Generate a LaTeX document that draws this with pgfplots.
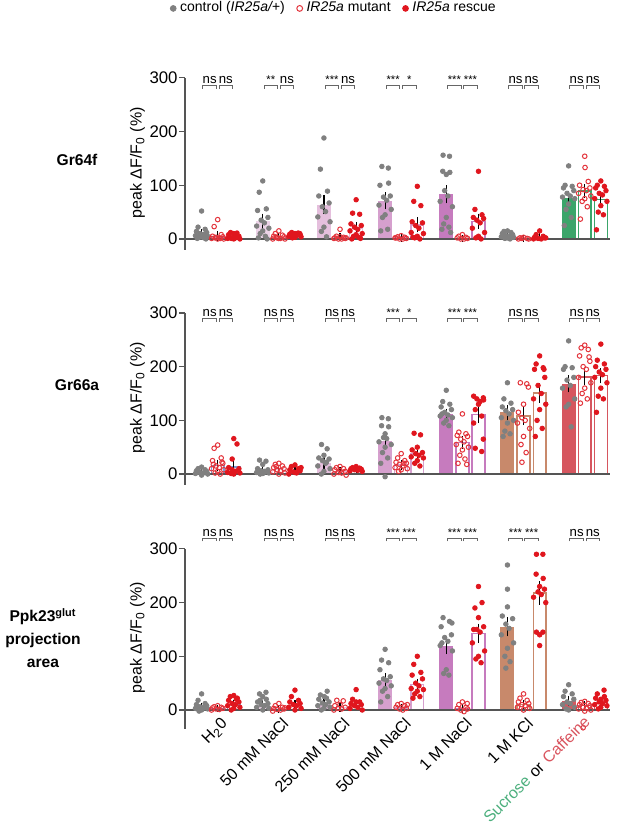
\documentclass[border=0pt]{standalone}
\usepackage{fontspec}
\setmainfont{Liberation Sans}
\usepackage{pgfplots}
\pgfplotsset{compat=1.18}
\usepackage{pgfplotstable}

\definecolor{ctrl}{HTML}{808080}
\definecolor{mut}{HTML}{E3343C}
\definecolor{res}{HTML}{E0161E}
\definecolor{cH}{HTML}{7D9BD2}
\definecolor{cA}{HTML}{EDD3E8}
\definecolor{cB}{HTML}{E5BFDD}
\definecolor{cC}{HTML}{D6A0CE}
\definecolor{cD}{HTML}{C67BBE}
\definecolor{cK}{HTML}{C8896B}
\definecolor{cS}{HTML}{3BA56A}
\definecolor{cF}{HTML}{D6565F}
\definecolor{cP}{RGB}{212,88,96}
\definecolor{labS}{HTML}{4CAF7D}
\definecolor{labF}{HTML}{D9545E}
\definecolor{axisgray}{HTML}{555555}

\tikzset{brk/.style={color=black!60, line width=0.45pt},
  sigt/.style={font=\fontsize{6.6}{7}\selectfont, anchor=base, inner sep=0pt},
  xlab/.style={font=\fontsize{8}{9}\selectfont, rotate=45, anchor=north east, inner sep=0pt}}
\newcommand\st{\fontsize{5.6}{6}\selectfont}

% ---------------- dot data: g dx y ----------------
\pgfplotstableread[row sep=\\]{g dx y\\
0 0 52\\0 -0.22 22\\0 0.22 18\\0 -0.32 14\\0 0.32 12\\0 -0.1 10\\0 0.1 8\\0 -0.38 6\\0 0.38 5\\0 0 4\\0 -0.16 3\\0 0.16 2\\0 -0.27 1\\0 0.27 0\\
1 0 108\\1 -0.22 87\\1 0.22 56\\1 -0.32 53\\1 0.32 40\\1 -0.1 35\\1 0.1 30\\1 -0.38 24\\1 0.38 20\\1 0 15\\1 -0.16 10\\1 0.16 5\\1 -0.27 2\\1 0.27 0\\
2 0 188\\2 -0.22 130\\2 0.22 89\\2 -0.32 80\\2 0.32 67\\2 -0.1 60\\2 0.1 51\\2 -0.38 41\\2 0.38 32\\2 0 22\\2 -0.16 14\\2 0.16 4\\
3 -0.2 135\\3 0.2 132\\3 0.22 104\\3 -0.32 100\\3 0.32 80\\3 -0.1 78\\3 0.1 72\\3 -0.38 63\\3 0.38 55\\3 0 45\\3 -0.16 40\\3 0.16 18\\3 -0.27 15\\
4 -0.2 156\\4 0.2 154\\4 -0.22 126\\4 0.22 124\\4 0 120\\4 -0.1 90\\4 0.1 80\\4 -0.38 70\\4 0.38 60\\4 0 40\\4 -0.16 28\\4 0.16 22\\4 -0.27 18\\4 0.27 12\\
5 0 15\\5 -0.22 14\\5 0.22 12\\5 -0.32 10\\5 0.32 8\\5 -0.1 6\\5 0.1 5\\5 -0.38 4\\5 0.38 3\\5 0 2\\5 -0.16 1\\5 0.16 0\\
6 0 136\\6 -0.22 100\\6 0.22 98\\6 -0.32 95\\6 0.32 90\\6 -0.1 85\\6 0.1 80\\6 -0.38 78\\6 0.38 75\\6 0 65\\6 -0.16 55\\6 0.16 40\\6 -0.27 25\\
}\pOneC
\pgfplotstableread[row sep=\\]{g dx y\\
0 0 36\\0 -0.22 23\\0 0.22 8\\0 -0.32 5\\0 0.32 4\\0 -0.1 3\\0 0.1 2\\0 -0.38 1\\0 0.38 0\\0 0 0\\0 -0.16 2\\0 0.16 1\\
1 0 15\\1 -0.22 10\\1 0.22 7\\1 -0.32 5\\1 0.32 4\\1 -0.1 2\\1 0.1 1\\1 -0.38 0\\1 0.38 0\\1 0 1\\1 -0.16 3\\
2 0 18\\2 -0.22 5\\2 0.22 3\\2 -0.32 2\\2 0.32 1\\2 -0.1 0\\2 0.1 0\\2 -0.38 1\\2 0.38 2\\2 0 4\\
3 0 6\\3 -0.22 4\\3 0.22 3\\3 -0.32 2\\3 0.32 1\\3 -0.1 0\\3 0.1 0\\3 -0.38 2\\
4 0 8\\4 -0.22 5\\4 0.22 3\\4 -0.32 2\\4 0.32 1\\4 -0.1 0\\4 0.1 0\\
5 0 3\\5 -0.22 2\\5 0.22 1\\5 -0.32 0\\5 0.32 0\\5 -0.1 1\\
6 0 154\\6 0.02 133\\6 0.22 107\\6 -0.32 100\\6 0.32 95\\6 -0.1 92\\6 0.1 90\\6 -0.38 85\\6 0.38 80\\6 0 75\\6 -0.16 70\\6 0.16 60\\6 -0.27 37\\
}\pOneM
\pgfplotstableread[row sep=\\]{g dx y\\
0 -0.2 12\\0 0.2 11\\0 0 10\\0 -0.32 8\\0 0.32 5\\0 -0.1 3\\0 0.1 2\\0 -0.38 1\\0 0.38 0\\0 0 0\\0 -0.16 1\\0 0.16 4\\
1 -0.2 12\\1 0.2 11\\1 0 10\\1 -0.32 9\\1 0.32 8\\1 -0.1 7\\1 0.1 6\\1 -0.38 5\\1 0.38 4\\1 0 3\\1 -0.16 2\\1 0.3 10\\
2 0 73\\2 -0.22 48\\2 0.22 46\\2 -0.32 28\\2 0.32 25\\2 -0.1 22\\2 0.1 18\\2 -0.38 15\\2 0.38 10\\2 0 8\\2 -0.16 5\\2 0.16 3\\2 -0.27 0\\2 0.27 1\\
3 0 98\\3 -0.22 70\\3 0.22 62\\3 -0.32 32\\3 0.32 30\\3 -0.1 25\\3 0.1 20\\3 -0.38 12\\3 0.38 10\\3 0 5\\3 -0.16 2\\3 0.16 0\\3 -0.27 3\\
4 0 126\\4 -0.22 55\\4 0.22 45\\4 -0.32 40\\4 0.32 38\\4 -0.1 35\\4 0.1 30\\4 -0.38 20\\4 0.38 12\\4 0 5\\4 -0.16 2\\4 0.16 0\\
5 0 15\\5 -0.22 8\\5 0.22 5\\5 -0.32 3\\5 0.32 2\\5 -0.1 1\\5 0.1 0\\5 -0.38 0\\5 0.38 2\\
6 0 108\\6 -0.22 100\\6 0.22 98\\6 -0.32 95\\6 0.32 90\\6 -0.1 85\\6 0.1 82\\6 -0.38 75\\6 0.38 70\\6 0 62\\6 -0.16 50\\6 0.16 45\\6 -0.27 17\\
}\pOneR

\pgfplotstableread[row sep=\\]{g dx y\\
0 0 13\\0 -0.22 10\\0 0.22 8\\0 -0.32 6\\0 0.32 5\\0 -0.1 3\\0 0.1 2\\0 -0.38 1\\0 0.38 0\\0 0 -2\\0 -0.16 4\\
1 -0.2 26\\1 0.2 24\\1 0 18\\1 -0.32 10\\1 0.32 8\\1 -0.1 6\\1 0.1 5\\1 -0.38 3\\1 0.38 2\\1 0 1\\1 -0.16 0\\1 0.16 4\\
2 -0.15 55\\2 0.2 47\\2 0 35\\2 -0.32 30\\2 0.32 28\\2 -0.1 25\\2 0.1 20\\2 -0.38 15\\2 0.38 10\\2 0 5\\2 -0.16 0\\2 0.16 22\\
3 -0.2 105\\3 0.2 103\\3 -0.22 90\\3 0.22 88\\3 0 75\\3 -0.1 68\\3 0.1 66\\3 -0.38 60\\3 0.38 55\\3 0 50\\3 -0.16 40\\3 0.16 30\\3 -0.27 20\\3 0 -5\\
4 0 156\\4 -0.22 135\\4 0.22 130\\4 -0.32 125\\4 0.32 120\\4 -0.1 115\\4 0.1 110\\4 -0.38 108\\4 0.38 105\\4 0 100\\4 -0.16 95\\4 0.16 90\\4 -0.27 112\\
5 0 170\\5 -0.22 140\\5 0.22 132\\5 -0.32 125\\5 0.32 120\\5 -0.1 118\\5 0.1 112\\5 -0.38 105\\5 0.38 100\\5 0 95\\5 -0.16 80\\5 0.16 75\\5 -0.27 70\\
6 0 248\\6 -0.22 200\\6 0.22 198\\6 -0.32 195\\6 0.32 180\\6 -0.1 175\\6 0.1 165\\6 -0.38 160\\6 0.38 140\\6 0 130\\6 -0.16 125\\6 0.16 88\\
}\pTwoC
\pgfplotstableread[row sep=\\]{g dx y\\
0 0 54\\0 -0.22 48\\0 0.22 30\\0 -0.32 25\\0 0.32 20\\0 -0.1 15\\0 0.1 12\\0 -0.38 10\\0 0.38 8\\0 0 5\\0 -0.16 2\\0 0.16 0\\0 -0.27 18\\0 0.27 22\\
1 0 20\\1 -0.22 18\\1 0.22 15\\1 -0.32 12\\1 0.32 10\\1 -0.1 8\\1 0.1 6\\1 -0.38 4\\1 0.38 2\\1 0 0\\1 -0.16 14\\
2 0 14\\2 -0.22 12\\2 0.22 10\\2 -0.32 8\\2 0.32 5\\2 -0.1 3\\2 0.1 2\\2 -0.38 0\\2 0.38 -2\\2 0 6\\
3 0 38\\3 -0.22 30\\3 0.22 25\\3 -0.32 22\\3 0.32 20\\3 -0.1 18\\3 0.1 15\\3 -0.38 12\\3 0.38 10\\3 0 8\\3 -0.16 5\\3 0.16 20\\
4 0 112\\4 -0.22 78\\4 0.22 75\\4 -0.32 72\\4 0.32 70\\4 -0.1 65\\4 0.1 60\\4 -0.38 55\\4 0.38 50\\4 0 45\\4 -0.16 35\\4 0.16 28\\4 -0.27 20\\4 0.27 18\\
5 -0.2 170\\5 0.2 168\\5 0.3 162\\5 0 130\\5 -0.32 115\\5 -0.1 105\\5 0.1 100\\5 -0.38 95\\5 0.38 85\\5 0 70\\5 -0.16 55\\5 0.16 40\\5 -0.1 22\\
6 0 240\\6 -0.22 235\\6 0.22 232\\6 -0.32 220\\6 0.32 210\\6 -0.1 200\\6 0.1 195\\6 -0.38 180\\6 0.38 170\\6 0 160\\6 -0.16 150\\6 0.16 140\\6 -0.27 132\\6 0.27 218\\
}\pTwoM
\pgfplotstableread[row sep=\\]{g dx y\\
0 0 66\\0 0.2 56\\0 -0.1 28\\0 -0.32 12\\0 0.32 10\\0 -0.1 8\\0 0.1 5\\0 -0.38 3\\0 0.38 2\\0 0 0\\0 -0.16 1\\
1 0 17\\1 -0.22 14\\1 0.22 10\\1 -0.32 8\\1 0.32 6\\1 -0.1 4\\1 0.1 2\\1 -0.38 0\\1 0.38 12\\1 0 3\\
2 0 14\\2 -0.22 12\\2 0.22 11\\2 -0.32 10\\2 0.32 9\\2 -0.1 8\\2 0.1 7\\2 -0.38 6\\2 0.38 5\\2 0.05 10\\
3 -0.2 76\\3 0.2 73\\3 0 50\\3 -0.32 45\\3 0.32 40\\3 -0.1 38\\3 0.1 35\\3 -0.38 32\\3 0.38 30\\3 0 25\\3 -0.16 20\\3 0.16 15\\
4 -0.3 145\\4 0.3 142\\4 -0.1 140\\4 0.1 135\\4 0 130\\4 -0.2 120\\4 0.2 108\\4 -0.3 95\\4 0.3 65\\4 -0.2 48\\4 0.2 42\\4 0.32 138\\
5 0 220\\5 -0.22 205\\5 0.22 198\\5 -0.32 195\\5 0.32 180\\5 -0.1 165\\5 0.1 150\\5 -0.38 140\\5 0.38 130\\5 0 120\\5 -0.16 100\\5 0.16 85\\5 -0.27 70\\5 0.27 195\\
6 0 242\\6 -0.22 212\\6 0.22 205\\6 -0.32 200\\6 0.32 195\\6 -0.1 190\\6 0.1 185\\6 -0.38 180\\6 0.38 170\\6 0 160\\6 -0.16 145\\6 0.16 140\\6 -0.27 115\\
}\pTwoR

\pgfplotstableread[row sep=\\]{g dx y\\
0 0 30\\0 -0.22 18\\0 0.22 12\\0 -0.32 10\\0 0.32 8\\0 -0.1 6\\0 0.1 5\\0 -0.38 3\\0 0.38 2\\0 0 0\\0 -0.16 -2\\0 0.16 4\\
1 0.2 33\\1 -0.2 30\\1 0.22 20\\1 -0.32 15\\1 0.32 12\\1 -0.1 10\\1 0.1 8\\1 -0.38 5\\1 0.38 3\\1 0 0\\1 -0.16 18\\1 0 25\\
2 0.2 35\\2 -0.22 28\\2 0.02 25\\2 -0.32 20\\2 0.32 15\\2 -0.1 13\\2 0.1 10\\2 -0.38 8\\2 0.38 5\\2 0 3\\2 -0.16 0\\2 0.16 22\\
3 0 113\\3 -0.22 93\\3 0.22 88\\3 -0.32 75\\3 0.32 62\\3 -0.1 58\\3 0.1 55\\3 -0.38 50\\3 0.38 45\\3 0 40\\3 -0.16 35\\3 0.16 25\\3 -0.27 15\\
4 -0.2 172\\4 0.2 165\\4 0.35 162\\4 -0.32 155\\4 0.32 140\\4 -0.1 135\\4 0.1 128\\4 -0.38 120\\4 0.38 110\\4 0 75\\4 -0.16 68\\4 0.16 65\\4 -0.27 125\\
5 0 270\\5 0 225\\5 0 192\\5 -0.32 175\\5 0.32 170\\5 -0.1 160\\5 0.1 152\\5 -0.38 140\\5 0.38 125\\5 0 115\\5 -0.16 100\\5 0.16 90\\5 -0.1 78\\
6 0 47\\6 -0.22 35\\6 0.22 30\\6 -0.32 25\\6 0.32 20\\6 -0.1 15\\6 0.1 12\\6 -0.38 10\\6 0.38 5\\6 0 0\\6 -0.16 2\\
}\pThreeC
\pgfplotstableread[row sep=\\]{g dx y\\
0 0 8\\0 -0.22 6\\0 0.22 5\\0 -0.32 4\\0 0.32 3\\0 -0.1 2\\0 0.1 1\\0 -0.38 0\\
1 0 12\\1 -0.22 8\\1 0.22 5\\1 -0.32 3\\1 0.32 2\\1 -0.1 1\\1 0.1 0\\1 -0.38 -2\\1 0.38 4\\
2 -0.2 18\\2 0.2 17\\2 0 10\\2 -0.32 8\\2 0.32 5\\2 -0.1 3\\2 0.1 2\\2 -0.38 0\\
3 0 12\\3 -0.22 10\\3 0.22 8\\3 -0.32 5\\3 0.32 3\\3 -0.1 2\\3 0.1 0\\3 0.38 10\\
4 0 15\\4 -0.22 10\\4 0.22 5\\4 -0.32 3\\4 0.32 2\\4 -0.1 0\\4 0.1 -3\\4 0.3 12\\
5 0 30\\5 -0.22 22\\5 0.22 18\\5 -0.32 15\\5 0.32 12\\5 -0.1 10\\5 0.1 8\\5 -0.38 5\\5 0.38 3\\5 0 0\\
6 0 16\\6 -0.22 14\\6 0.22 12\\6 -0.32 10\\6 0.32 8\\6 -0.1 5\\6 0.1 3\\6 -0.38 2\\6 0.38 0\\6 0 -2\\6 -0.1 -33\\
}\pThreeM
\pgfplotstableread[row sep=\\]{g dx y\\
0 0 27\\0 -0.22 25\\0 0.22 22\\0 -0.32 18\\0 0.32 15\\0 -0.1 12\\0 0.1 10\\0 -0.38 8\\0 0.38 5\\0 0 3\\0 -0.16 0\\0 0.16 20\\
1 0 37\\1 -0.22 25\\1 0.22 18\\1 -0.32 15\\1 0.32 12\\1 -0.1 10\\1 0.1 8\\1 -0.38 5\\1 0.38 3\\1 0 0\\
2 0 38\\2 -0.22 20\\2 0.22 15\\2 -0.32 12\\2 0.32 10\\2 -0.1 8\\2 0.1 5\\2 -0.38 3\\2 0.38 0\\2 0 15\\
3 0 100\\3 -0.22 85\\3 0.22 70\\3 -0.32 65\\3 0.32 58\\3 -0.1 50\\3 0.1 45\\3 -0.38 40\\3 0.38 38\\3 0 35\\3 -0.16 30\\3 0.16 25\\3 -0.27 22\\
4 0 230\\4 0.22 200\\4 -0.22 190\\4 0 172\\4 0.32 155\\4 -0.1 150\\4 0.1 145\\4 -0.38 125\\4 0.38 110\\4 0 100\\4 -0.16 95\\4 0.16 88\\4 -0.3 150\\
5 -0.2 290\\5 0.2 290\\5 -0.22 253\\5 0.22 245\\5 0 230\\5 -0.1 220\\5 0.1 215\\5 -0.38 210\\5 0.38 200\\5 -0.2 145\\5 0.2 145\\5 0 140\\5 0 120\\5 0.3 225\\
6 0.2 37\\6 -0.22 30\\6 0.22 25\\6 -0.32 22\\6 0.32 18\\6 -0.1 15\\6 0.1 12\\6 -0.38 10\\6 0.38 8\\6 0 5\\6 -0.16 2\\6 0 20\\
}\pThreeR

% ---------------- bars: g, colour, control, sem, mutant, sem, rescue, sem ----------------
\def\PanelOne{%
\grp{0}{cH}{10}{3}{5}{3}{4}{1.5}%
\grp{1}{cA}{33}{8}{3}{1.5}{7}{1}%
\grp{2}{cB}{64}{12}{3}{1.5}{20}{6}%
\grp{3}{cC}{71}{10}{2}{1}{26}{8}%
\grp{4}{cD}{83}{11}{1}{1}{33}{8}%
\grp{5}{cK}{6}{1.5}{1}{0.5}{3}{1.5}%
\grp{6}{cS}{76}{8}{89}{7}{74}{7}%
}
\def\PanelTwo{%
\grp{0}{cH}{3}{1.5}{16}{5}{13}{6}%
\grp{1}{cA}{7}{2}{8}{2}{5}{1.5}%
\grp{2}{cB}{21}{5}{5}{1.5}{9}{1}%
\grp{3}{cC}{61}{8}{17}{3}{37}{4}%
\grp{4}{cD}{111}{5}{59}{6}{111}{10}%
\grp{5}{cK}{115}{8}{108}{11}{151}{12}%
\grp{6}{cF}{168}{10}{181}{9}{183}{8}%
}
\def\PanelThree{%
\grp{0}{cH}{6}{2}{3}{1}{10}{3}%
\grp{1}{cA}{10}{2.5}{2}{1}{9}{3}%
\grp{2}{cB}{12}{3}{5}{2}{8}{3}%
\grp{3}{cC}{56}{7}{4}{1.5}{47}{5}%
\grp{4}{cD}{120}{10}{3}{2}{143}{12}%
\grp{5}{cK}{155}{12}{10}{3}{218}{16}%
\grp{6}{cP}{17}{4}{8}{2}{14}{3}%
}

\newcommand\grpbars[8]{%
  \pgfmathsetmacro\xa{3.8*#1-1}\pgfmathsetmacro\xb{3.8*#1}\pgfmathsetmacro\xd{3.8*#1+1}%
  \addplot[forget plot, ybar, bar width=0.87, bar shift=0pt, fill=#2, draw=none] coordinates {(\xa,#3)};
  \addplot[forget plot, ybar, bar width=0.8, bar shift=0pt, fill=white, draw=#2, line width=0.7pt] coordinates {(\xb,#5)};
  \addplot[forget plot, ybar, bar width=0.8, bar shift=0pt, fill=white, draw=#2, line width=0.7pt] coordinates {(\xd,#7)};
}
\newcommand\grperr[8]{%
  \pgfmathsetmacro\xa{3.8*#1-1}\pgfmathsetmacro\xb{3.8*#1}\pgfmathsetmacro\xd{3.8*#1+1}%
  \addplot[forget plot, draw=none, mark=none,
    error bars/.cd, y dir=both, y explicit,
    error bar style={draw=black, solid, line width=0.6pt},
    error mark options={draw=black, mark size=1.6pt, line width=0.6pt}]
    coordinates {(\xa,#3) +- (0,#4) (\xb,#5) +- (0,#6) (\xd,#7) +- (0,#8)};
}
\newcommand\sig[4]{%
  \pgfmathsetmacro\sgA{#1-0.92}\pgfmathsetmacro\sgB{#1-0.08}%
  \pgfmathsetmacro\sgC{#1+0.08}\pgfmathsetmacro\sgD{#1+0.92}%
  \pgfmathsetmacro\sgL{#1-0.5}\pgfmathsetmacro\sgR{#1+0.5}%
  \pgfmathsetmacro\sgT{#4-6}\pgfmathsetmacro\sgN{#4+3}%
  \edef\sgtemp{%
    \noexpand\draw[brk] (axis cs:\sgA,\sgT) -- (axis cs:\sgA,#4) -- (axis cs:\sgB,#4) -- (axis cs:\sgB,\sgT);
    \noexpand\draw[brk] (axis cs:\sgC,\sgT) -- (axis cs:\sgC,#4) -- (axis cs:\sgD,#4) -- (axis cs:\sgD,\sgT);
    \noexpand\node[sigt] at (axis cs:\sgL,\sgN) {\unexpanded{#2}};
    \noexpand\node[sigt] at (axis cs:\sgR,\sgN) {\unexpanded{#3}};}%
  \sgtemp
}

\newcommand\dotplots[3]{%
  \addplot[only marks, mark=*, mark size=1.15pt, color=ctrl, mark options={fill=ctrl, draw=ctrl}]
    table[x expr=3.8*\thisrow{g}-1+\thisrow{dx}, y=y] {#1};
  \addplot[only marks, mark=o, mark size=1.15pt, color=mut, mark options={draw=mut, line width=0.5pt}]
    table[x expr=3.8*\thisrow{g}+\thisrow{dx}, y=y] {#2};
  \addplot[only marks, mark=*, mark size=1.15pt, color=res, mark options={fill=res, draw=res}]
    table[x expr=3.8*\thisrow{g}+1+\thisrow{dx}, y=y] {#3};
}

\pgfplotsset{
  panel/.style={
    anchor=south west, scale only axis, width=212.5pt,
    xmin=-2.03, xmax=24.37, ymax=300,
    axis y line*=left, axis x line*=bottom,
    x axis line style={draw=none}, xtick style={draw=none},
    y axis line style={color=axisgray, line width=0.6pt},
    ytick style={color=axisgray, line width=0.6pt},
    ytick={0,100,200,300}, tick align=outside, major tick length=3pt,
    xtick=\empty, clip=false,
    tick label style={font=\fontsize{8.4}{9}\selectfont},
    yticklabel style={xshift=2.8pt},
    /pgf/number format/assume math mode=true,
    ylabel={peak ΔF/F\textsubscript{0} (\%)},
    ylabel style={at={(axis description cs:-0.112,0.506)}, anchor=center, font=\fontsize{8}{9}\selectfont},
  }
}

\begin{document}
\begin{tikzpicture}[font=\fontsize{8}{9.6}\selectfont]
\useasboundingbox (0,0) rectangle (308.5pt,416.5pt);

% ---------------- Gr64f ----------------
\begin{axis}[panel, at={(92.5pt,291.65pt)}, ymin=-20, height=85.92pt,
  legend columns=3, legend cell align=left,
  legend image post style={mark size=1.45pt},
  legend style={at={(0.353,1.404)}, anchor=center, draw=none, fill=none,
    font=\fontsize{7}{8}\selectfont, /tikz/every even column/.append style={column sep=4pt}}]
\let\grp\grpbars \PanelOne
\dotplots{\pOneC}{\pOneM}{\pOneR}
\let\grp\grperr \PanelOne
\addplot[forget plot, color=axisgray, line width=0.6pt] coordinates {(-2.03,0) (24.37,0)};
\sig{0}{ns}{ns}{286}\sig{3.8}{{\st **}}{ns}{286}\sig{7.6}{{\st ***}}{ns}{286}\sig{11.4}{{\st ***}}{{\st *}}{286}
\sig{15.2}{{\st ***}}{{\st ***}}{286}\sig{19}{ns}{ns}{286}\sig{22.8}{ns}{ns}{286}
\legend{control (\textit{IR25a/+}), \textit{IR25a} mutant, \textit{IR25a} rescue}
\end{axis}

% ---------------- Gr66a ----------------
\begin{axis}[panel, at={(92.5pt,174.1pt)}, ymin=-20, height=85.92pt]
\let\grp\grpbars \PanelTwo
\dotplots{\pTwoC}{\pTwoM}{\pTwoR}
\let\grp\grperr \PanelTwo
\addplot[forget plot, color=axisgray, line width=0.6pt] coordinates {(-2.03,0) (24.37,0)};
\sig{0}{ns}{ns}{290}\sig{3.8}{ns}{ns}{290}\sig{7.6}{ns}{ns}{290}\sig{11.4}{{\st ***}}{{\st *}}{290}
\sig{15.2}{{\st ***}}{{\st ***}}{290}\sig{19}{ns}{ns}{290}\sig{22.8}{ns}{ns}{290}
\end{axis}

% ---------------- Ppk23 ----------------
\begin{axis}[panel, at={(92.5pt,52.1pt)}, ymin=-35, height=89.95pt]
\let\grp\grpbars \PanelThree
\dotplots{\pThreeC}{\pThreeM}{\pThreeR}
\let\grp\grperr \PanelThree
\addplot[forget plot, color=axisgray, line width=0.6pt] coordinates {(-2.03,0) (24.37,0)};
\sig{0}{ns}{ns}{320}\sig{3.8}{ns}{ns}{320}\sig{7.6}{ns}{ns}{320}\sig{11.4}{{\st ***}}{{\st ***}}{320}
\sig{15.2}{{\st ***}}{{\st ***}}{320}\sig{19}{{\st ***}}{{\st ***}}{320}\sig{22.8}{ns}{ns}{320}
\coordinate (t0) at (axis cs:0,0);
\coordinate (t1) at (axis cs:3.8,0);
\coordinate (t2) at (axis cs:7.6,0);
\coordinate (t3) at (axis cs:11.4,0);
\coordinate (t4) at (axis cs:15.2,0);
\coordinate (t5) at (axis cs:19,0);
\coordinate (t6) at (axis cs:22.8,0);
\end{axis}

\node[font=\bfseries\fontsize{7.8}{9}\selectfont] at (38.5pt,336.5pt) {Gr64f};
\node[font=\bfseries\fontsize{7.8}{9}\selectfont] at (38.5pt,224pt) {Gr66a};
\node[font=\bfseries\fontsize{7.8}{11.25}\selectfont, align=center] at (21.5pt,97.6pt)
  {Ppk23\textsuperscript{glut}\\projection\\area};

% x category labels
\node[xlab] at ([xshift=1.2pt,yshift=-3pt]t0) {H\textsubscript{2}0};
\node[xlab] at ([xshift=1.2pt,yshift=-3pt]t1) {50 mM NaCl};
\node[xlab] at ([xshift=1.2pt,yshift=-3pt]t2) {250 mM NaCl};
\node[xlab] at ([xshift=1.2pt,yshift=-3pt]t3) {500 mM NaCl};
\node[xlab] at ([xshift=1.2pt,yshift=-3pt]t4) {1 M NaCl};
\node[xlab] at ([xshift=1.2pt,yshift=-3pt]t5) {1 M KCl};
\node[xlab, text=labF] (caf) at ([xshift=-1pt,yshift=-2pt]t6) {Caffeine};
\node[xlab, anchor=base east] (orw) at ([shift={(225:2.2pt)}]caf.base west) {or};
\node[xlab, anchor=base east, text=labS] at ([shift={(225:2.2pt)}]orw.base west) {Sucrose};
\end{tikzpicture}
\end{document}
